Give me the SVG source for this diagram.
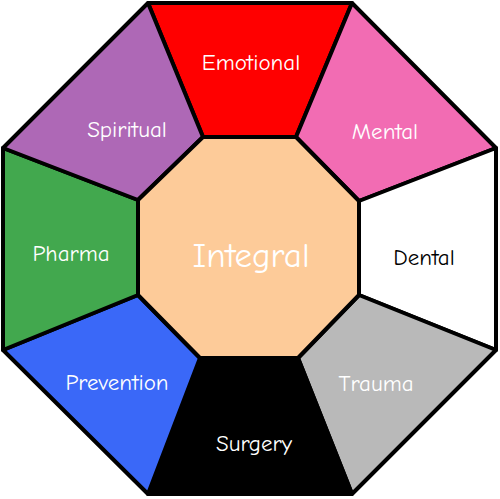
<svg xmlns="http://www.w3.org/2000/svg" width="500" height="499" viewBox="0 0 500 499">
<style>
.seg{stroke:#000;stroke-width:4;stroke-linejoin:round}
text{font-family:"Comic Neue","Open Sans","DejaVu Sans",sans-serif;font-size:23px;text-anchor:middle;dominant-baseline:central}
.w{fill:#fff}
.k{fill:#000}
</style>
<rect width="500" height="499" fill="#fff"/>
<g id="emotional"><polygon class="seg" fill="#ff0000" points="148,3 352,3 296,137 203,137"/><text class="w" x="251" y="62">Emotional</text></g>
<g id="mental"><polygon class="seg" fill="#f26cb3" points="352,3 496,148 359,201 296,137"/><text class="w" x="385" y="131">Mental</text></g>
<g id="dental"><polygon class="seg" fill="#ffffff" points="496,148 496,350 359,295 359,201"/><text class="k" x="424" y="257">Dental</text></g>
<g id="trauma"><polygon class="seg" fill="#b9b9b9" points="496,350 352,494 298,358 359,295"/><text class="w" x="376" y="383">Trauma</text></g>
<g id="surgery"><polygon class="seg" fill="#000000" points="352,494 148,494 200,358 298,358"/><text class="w" x="254" y="443">Surgery</text></g>
<g id="prevention"><polygon class="seg" fill="#3a68f8" points="148,494 3,350 138,295 200,358"/><text class="w" x="117" y="382">Prevention</text></g>
<g id="pharma"><polygon class="seg" fill="#42a84e" points="3,350 3,148 138,200 138,295"/><text class="w" x="71" y="253">Pharma</text></g>
<g id="spiritual"><polygon class="seg" fill="#ae68b6" points="3,148 148,3 203,137 138,200"/><text class="w" x="127" y="129">Spiritual</text></g>
<g id="integral"><polygon class="seg" fill="#fdcb99" points="203,137 296,137 359,201 359,295 298,358 200,358 138,295 138,200"/><text class="w" x="251" y="255" style="font-size:35px">Integral</text></g>
</svg>
